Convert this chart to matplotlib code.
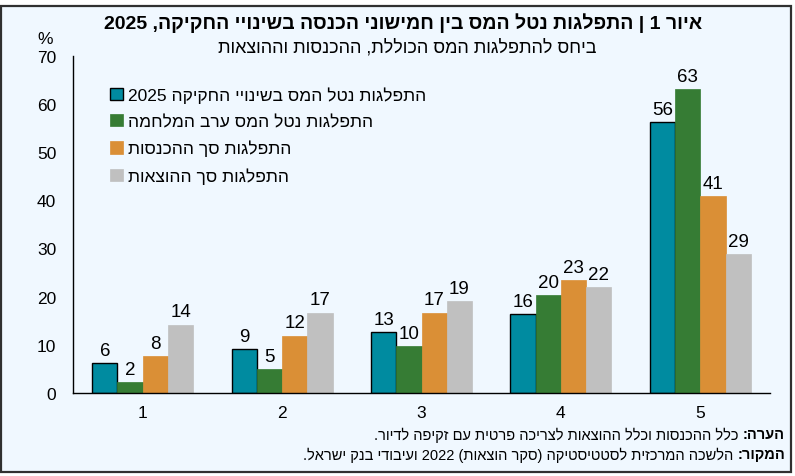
import re
import numpy as np
import matplotlib
matplotlib.use('Agg')
import matplotlib.pyplot as plt
from matplotlib.patches import Rectangle

plt.rcParams['font.family'] = ['Liberation Sans', 'DejaVu Sans']

quintiles = ['1', '2', '3', '4', '5']
tax_2025 = [6.2, 9.2, 12.6, 16.4, 56.3]
tax_prewar = [2.2, 4.9, 9.8, 20.4, 63.0]
income_share = [7.6, 11.9, 16.7, 23.4, 40.8]
spend_share = [14.2, 16.7, 19.0, 22.0, 28.8]

series_names = [
    'התפלגות נטל המס בשינויי החקיקה 2025',
    'התפלגות נטל המס ערב המלחמה',
    'התפלגות סך ההכנסות',
    'התפלגות סך ההוצאות',
]
colors = ['#008BA0', '#367C34', '#DA8F36', '#C0C0C0']

title = 'איור 1 | התפלגות נטל המס בין חמישוני הכנסה בשינויי החקיקה, 2025'
subtitle = 'ביחס להתפלגות המס הכוללת, ההכנסות וההוצאות'
note_head = 'הערה:'
note_body = 'כלל ההכנסות וכלל ההוצאות לצריכה פרטית עם זקיפה לדיור.'
source_head = 'המקור:'
source_body = 'הלשכה המרכזית לסטטיסטיקה (סקר הוצאות) 2022 ועיבודי בנק ישראל.'

MIRROR = {'(': ')', ')': '('}


def rtl(s):
    # no bidi in matplotlib: put the string in visual order by hand,
    # keeping runs of digits as they are and mirroring brackets
    tokens = re.findall(r'[0-9A-Za-z]+|.', s)
    return ''.join(MIRROR.get(t, t) for t in reversed(tokens))


W, H = 795, 477
fig = plt.figure(figsize=(W / 100, H / 100), dpi=100, facecolor='white')

# panel background with dark frame
fig.patches.append(Rectangle((1 / W, 4 / H), 790 / W, 466 / H, transform=fig.transFigure,
                             facecolor='#F0F8FF', edgecolor='#303030', linewidth=1.6,
                             zorder=-10))

ax = fig.add_axes([73 / W, 83 / H, 697 / W, 337.3 / H])
ax.patch.set_visible(False)

series = [tax_2025, tax_prewar, income_share, spend_share]
x = np.arange(len(quintiles))
width = 0.181
for i, (vals, name, c) in enumerate(zip(series, series_names, colors)):
    offs = (i - 1.5) * width
    if i == 0:
        bars = ax.bar(x + offs, vals, width, color=c, edgecolor='black', linewidth=1.0,
                      label=rtl(name), zorder=2)
    else:
        bars = ax.bar(x + offs, vals, width, color=c, edgecolor=c, linewidth=0.5,
                      label=rtl(name), zorder=2)
    ax.bar_label(bars, fmt='%.0f', padding=3, fontsize=13.5)

ax.set_xlim(-0.5, 4.5)
ax.set_ylim(0, 70)
ax.set_yticks(range(0, 71, 10))
ax.set_xticks(x)
ax.set_xticklabels(quintiles)
ax.tick_params(axis='y', length=0, pad=12, labelsize=12.5)
ax.tick_params(axis='x', length=0, pad=9, labelsize=12.5)
for s in ['top', 'right']:
    ax.spines[s].set_visible(False)
ax.spines['left'].set_linewidth(1.0)
ax.spines['bottom'].set_linewidth(1.0)

ax.legend(loc='upper left', bbox_to_anchor=(0.031, 0.955), frameon=False, fontsize=12.5,
          handlelength=0.72, handleheight=0.72, handletextpad=0.3, labelspacing=0.62)

fig.text(403 / W, 1 - 23 / H, rtl(title), ha='center', va='center', fontsize=14, weight='bold')
fig.text(407 / W, 1 - 48 / H, rtl(subtitle), ha='center', va='center', fontsize=13)
fig.text(45 / W, 1 - 39 / H, '%', ha='center', va='center', fontsize=12.5)

# notes: bold head on the right, plain text continues to its left
for y, head, body in [(435, note_head, note_body), (455, source_head, source_body)]:
    h = fig.text(785 / W, 1 - y / H, rtl(head), ha='right', va='center', fontsize=10.5,
                 weight='bold')
    ax.annotate(rtl(body), xy=(0, 0.5), xycoords=h, xytext=(-3, 0), textcoords='offset points',
                ha='right', va='center', fontsize=10.5, annotation_clip=False)

fig.savefig('out.png', dpi=100)
